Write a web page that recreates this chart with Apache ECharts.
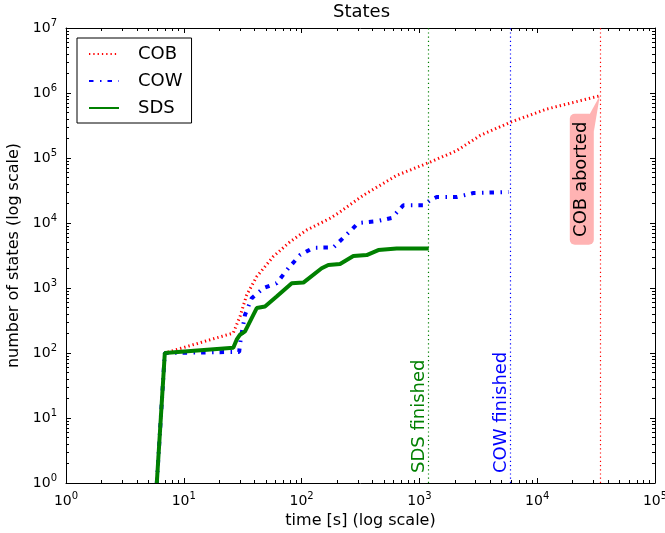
<!DOCTYPE html>
<html>
<head>
<meta charset="utf-8">
<title>States</title>
<script src="https://cdn.jsdelivr.net/npm/echarts@6/dist/echarts.min.js"></script>
<style>
html, body { margin: 0; padding: 0; background: #fff; }
#main { width: 665px; height: 533px; }
</style>
</head>
<body>
<div id="main"></div>
<script>
// values (time in s, number of states)
var cobTime   = [5.9, 6.9, 26.3, 30, 34.2, 41.6, 57.3, 79.7, 110, 173, 212, 334, 641, 1230, 2075, 3270, 5875, 12050, 34000];
var cobStates = [1, 100, 203, 365, 783, 1496, 3030, 5140, 7760, 11720, 14800, 26660, 53950, 86300, 130000, 221000, 353000, 566000, 906000];

var cowTime   = [5.9, 6.9, 29.5, 30.5, 33.1, 37.7, 47.3, 61.4, 77.1, 96.9, 125.7, 186, 233.5, 303, 434, 582, 730, 1080, 1230, 1403, 2075, 2870, 5700];
var cowStates = [1, 100, 104, 170, 387, 698, 993, 1185, 2010, 3210, 4160, 4200, 6280, 10000, 10650, 11960, 18740, 18740, 22350, 25100, 25100, 28900, 29950];

var sdsTime   = [5.9, 6.9, 26.3, 28.1, 30, 33.1, 41.6, 48.9, 61.4, 82.5, 103.5, 148, 168.6, 212, 275, 357, 448, 641, 1200];
var sdsStates = [1, 100, 120, 160, 191, 215, 491, 519, 738, 1185, 1211, 2010, 2260, 2340, 3100, 3210, 3830, 4065, 4065];

var sdsFinished = 1200;
var cowFinished = 5900;
var cobAborted = 34000;

var xDecades = [0, 1, 2, 3, 4, 5];
var yDecades = [0, 1, 2, 3, 4, 5, 6, 7];

var FONT = 'DejaVu Sans';
var PINK = '#ffb3b3';

function pairs(xs, ys) {
	var out = [];
	for (var i = 0; i < xs.length; i++) {
		out.push([xs[i], ys[i]]);
	}
	return out;
}

// minor tick positions of a log axis, expressed in decades
function minorTicks(decades) {
	var out = [];
	for (var d = 0; d < decades.length - 1; d++) {
		for (var k = 2; k <= 9; k++) {
			out.push(decades[d] + Math.log10(k));
		}
	}
	return out;
}

var tickRich = {
	b : { fontSize : 14, lineHeight : 20, fontFamily : FONT, color : '#000' },
	s : { fontSize : 10, lineHeight : 8, verticalAlign : 'top', fontFamily : FONT, color : '#000' }
};

function tickLabel(v) {
	return '{b|10}{s|' + Math.round(v) + '}';
}

// overlay axes (in decades) used only to draw the frame, ticks and labels
function frameAxis(dim, position, decades, minor, labels, name) {
	var ax = {
		type : 'value',
		position : position,
		min : decades[0],
		max : decades[decades.length - 1],
		interval : 1,
		splitLine : { show : false },
		axisLine : { show : !minor, onZero : false, lineStyle : { color : '#000', width : 1 } },
		axisTick : {
			show : true,
			inside : true,
			length : minor ? 3 : 5,
			lineStyle : { color : '#000', width : 1 }
		},
		axisLabel : { show : false }
	};
	if (minor) {
		ax.axisTick.customValues = minorTicks(decades);
	} else {
		ax.axisTick.customValues = decades;
	}
	if (labels) {
		ax.axisLabel = {
			show : true,
			customValues : decades,
			formatter : tickLabel,
			rich : tickRich,
			margin : dim === 'x' ? 8 : 9
		};
		ax.name = name;
		ax.nameLocation = 'middle';
		ax.nameGap = dim === 'x' ? 27 : 42;
		ax.nameTextStyle = { fontSize : 16, fontFamily : FONT, color : '#000' };
	}
	return ax;
}

function finishLabel(text, color) {
	return {
		show : true,
		position : 'insideStartTop',
		distance : [ 10, 0 ],
		formatter : text,
		color : color,
		fontSize : 18,
		fontFamily : FONT
	};
}

var chart = echarts.init(document.getElementById('main'));

var option = {
	animation : false,
	backgroundColor : '#fff',
	textStyle : { fontFamily : FONT },
	title : {
		text : 'States',
		left : 333,
		top : 3,
		padding : 0,
		textStyle : { fontSize : 18, fontWeight : 'normal', color : '#000', fontFamily : FONT }
	},
	legend : {
		orient : 'vertical',
		left : 77,
		top : 38,
		padding : [ 7, 9, 6, 11 ],
		itemWidth : 30,
		itemHeight : 16,
		itemGap : 9,
		borderColor : '#000',
		borderWidth : 1,
		borderRadius : 0,
		backgroundColor : '#fff',
		itemStyle : { opacity : 0 },
		textStyle : { fontSize : 18, lineHeight : 18, color : '#000', fontFamily : FONT, padding : [ 0, 0, 0, 14 ] },
		data : [ 'COB', 'COW', 'SDS' ]
	},
	grid : {
		left : 66,
		right : 10,
		top : 28,
		bottom : 50,
		outerBoundsMode : 'none'
	},
	xAxis : [
		{ type : 'log', logBase : 10, min : 1, max : 100000, show : false },
		frameAxis('x', 'bottom', xDecades, false, true, 'time [s] (log scale)'),
		frameAxis('x', 'bottom', xDecades, true, false),
		frameAxis('x', 'top', xDecades, false, false),
		frameAxis('x', 'top', xDecades, true, false)
	],
	yAxis : [
		{ type : 'log', logBase : 10, min : 1, max : 10000000, show : false },
		frameAxis('y', 'left', yDecades, false, true, 'number of states (log scale)'),
		frameAxis('y', 'left', yDecades, true, false),
		frameAxis('y', 'right', yDecades, false, false),
		frameAxis('y', 'right', yDecades, true, false)
	],
	series : [ {
		name : 'COB',
		type : 'line',
		xAxisIndex : 0,
		yAxisIndex : 0,
		symbol : 'none',
		z : 2,
		data : pairs(cobTime, cobStates),
		itemStyle : { color : '#ff0000' },
		lineStyle : { color : '#ff0000', width : 3, type : [ 1.3, 3 ] },
		markLine : {
			silent : true,
			symbol : 'none',
			lineStyle : { color : '#ff0000', width : 1.2, type : [ 1.2, 3 ] },
			label : { show : false },
			data : [ { xAxis : cobAborted } ]
		}
	}, {
		name : 'COW',
		type : 'line',
		xAxisIndex : 0,
		yAxisIndex : 0,
		symbol : 'none',
		z : 3,
		data : pairs(cowTime, cowStates),
		itemStyle : { color : '#0000ff' },
		lineStyle : { color : '#0000ff', width : 4, type : [ 4.5, 6.5, 1.5, 6 ] },
		markLine : {
			silent : true,
			symbol : 'none',
			lineStyle : { color : '#0000ff', width : 1.2, type : [ 1.2, 3 ] },
			label : finishLabel('COW finished', '#0000ff'),
			data : [ { xAxis : cowFinished } ]
		}
	}, {
		name : 'SDS',
		type : 'line',
		xAxisIndex : 0,
		yAxisIndex : 0,
		symbol : 'none',
		z : 4,
		data : pairs(sdsTime, sdsStates),
		itemStyle : { color : '#008000' },
		lineStyle : { color : '#008000', width : 4 },
		markLine : {
			silent : true,
			symbol : 'none',
			lineStyle : { color : '#008000', width : 1.2, type : [ 1.2, 3 ] },
			label : finishLabel('SDS finished', '#008000'),
			data : [ { xAxis : sdsFinished } ]
		}
	} ]
};

chart.setOption(option);

// "COB aborted" callout anchored at the last COB point
var tip = chart.convertToPixel({ xAxisIndex : 0, yAxisIndex : 0 }, [ cobTime[cobTime.length - 1], cobStates[cobStates.length - 1] ]);
chart.setOption({
	graphic : [ {
		type : 'polygon',
		z : 10,
		shape : { points : [ [ tip[0], tip[1] ], [ tip[0] - 11, tip[1] + 20 ], [ tip[0] - 6, tip[1] + 36 ] ] },
		style : { fill : PINK }
	}, {
		type : 'rect',
		z : 10,
		shape : { x : tip[0] - 30, y : tip[1] + 18, width : 24, height : 131, r : 5 },
		style : { fill : PINK }
	}, {
		type : 'text',
		z : 11,
		x : tip[0] - 18,
		y : tip[1] + 83.5,
		rotation : Math.PI / 2,
		style : { text : 'COB aborted', fontSize : 18, fontFamily : FONT, fill : '#000', align : 'center', verticalAlign : 'middle' }
	} ]
});
</script>
</body>
</html>
